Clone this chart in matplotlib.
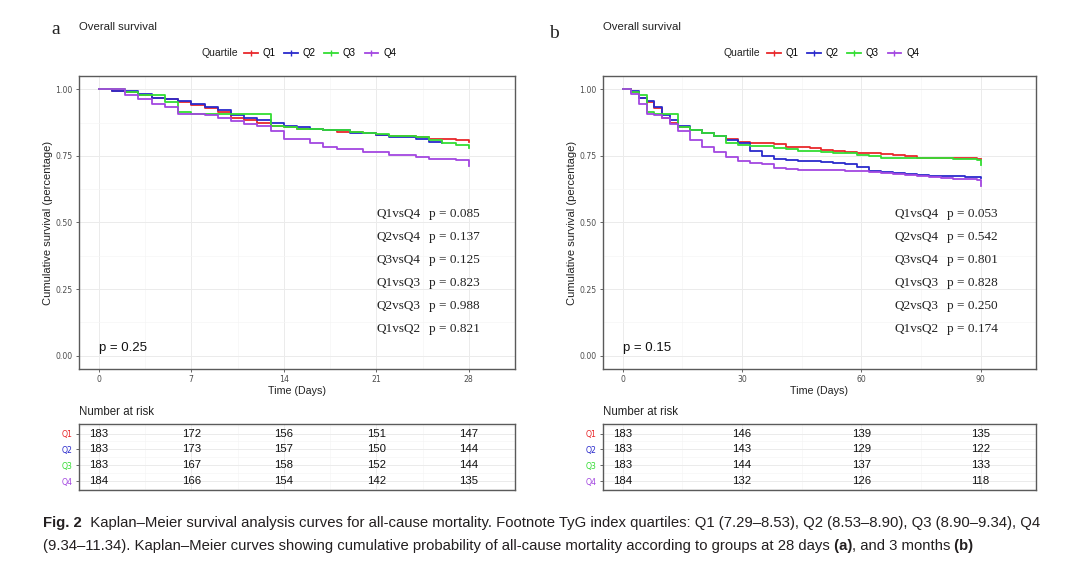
import matplotlib
matplotlib.use("Agg")
import matplotlib.pyplot as plt
from matplotlib import font_manager
from matplotlib.lines import Line2D
from matplotlib.ticker import MultipleLocator, FormatStrFormatter

W, H = 1080, 573

quartiles = ["Q1", "Q2", "Q3", "Q4"]
colors = ["#E8282B", "#2A2ACC", "#33DD33", "#A347E0"]

# panel a: 28-day survival, one value per day
days_28 = list(range(29))
surv_28_q1 = [1.000, 0.995, 0.989, 0.978, 0.967, 0.962, 0.951, 0.940, 0.929, 0.913,
              0.891, 0.885, 0.874, 0.863, 0.858, 0.852, 0.852, 0.847, 0.841, 0.841,
              0.836, 0.830, 0.825, 0.825, 0.820, 0.814, 0.814, 0.809, 0.803]
surv_28_q2 = [1.000, 0.995, 0.995, 0.984, 0.967, 0.962, 0.956, 0.945, 0.934, 0.923,
              0.902, 0.891, 0.885, 0.874, 0.863, 0.858, 0.852, 0.847, 0.847, 0.836,
              0.836, 0.830, 0.820, 0.820, 0.814, 0.803, 0.798]
surv_28_q3 = [1.000, 1.000, 0.989, 0.978, 0.978, 0.951, 0.913, 0.907, 0.907, 0.907,
              0.907, 0.907, 0.907, 0.863, 0.858, 0.852, 0.852, 0.847, 0.847, 0.841,
              0.836, 0.831, 0.825, 0.825, 0.820, 0.809, 0.798, 0.792, 0.781]
surv_28_q4 = [1.000, 1.000, 0.978, 0.962, 0.946, 0.935, 0.907, 0.907, 0.902, 0.891,
              0.880, 0.870, 0.864, 0.842, 0.815, 0.815, 0.799, 0.783, 0.777, 0.777,
              0.766, 0.766, 0.755, 0.755, 0.745, 0.739, 0.739, 0.734, 0.712]

# panel b: 90-day survival
days_90 = [0, 2, 4, 6, 8, 10, 12, 14, 17, 20, 23, 26, 29, 32, 35, 38, 41, 44, 47, 50,
           53, 56, 59, 62, 65, 68, 71, 74, 77, 80, 83, 86, 89, 90]
surv_90_q1 = [1.000, 0.989, 0.967, 0.951, 0.929, 0.891, 0.874, 0.858, 0.847, 0.836,
              0.825, 0.814, 0.803, 0.800, 0.800, 0.795, 0.785, 0.783, 0.779, 0.772,
              0.769, 0.765, 0.762, 0.760, 0.757, 0.755, 0.750, 0.743, 0.743, 0.743,
              0.743, 0.743, 0.740, 0.738]
surv_90_q2 = [1.000, 0.995, 0.967, 0.956, 0.934, 0.902, 0.885, 0.863, 0.847, 0.836,
              0.825, 0.809, 0.798, 0.770, 0.749, 0.738, 0.735, 0.732, 0.730, 0.728,
              0.725, 0.720, 0.710, 0.694, 0.690, 0.686, 0.681, 0.677, 0.673, 0.673,
              0.673, 0.672, 0.670, 0.667]
surv_90_q3 = [1.000, 0.989, 0.978, 0.913, 0.907, 0.907, 0.907, 0.858, 0.847, 0.836,
              0.825, 0.798, 0.792, 0.787, 0.787, 0.781, 0.776, 0.770, 0.768, 0.765,
              0.762, 0.760, 0.752, 0.748, 0.741, 0.741, 0.741, 0.741, 0.741, 0.741,
              0.739, 0.738, 0.733, 0.715]
surv_90_q4 = [1.000, 0.984, 0.946, 0.907, 0.902, 0.891, 0.870, 0.842, 0.810, 0.785,
              0.766, 0.745, 0.730, 0.724, 0.718, 0.703, 0.700, 0.698, 0.696, 0.696,
              0.696, 0.694, 0.694, 0.690, 0.685, 0.681, 0.679, 0.675, 0.670, 0.668,
              0.665, 0.663, 0.660, 0.636]

# number at risk
risk_times_28 = [0, 7, 14, 21, 28]
risk_28_q1 = [183, 172, 156, 151, 147]
risk_28_q2 = [183, 173, 157, 150, 144]
risk_28_q3 = [183, 167, 158, 152, 144]
risk_28_q4 = [184, 166, 154, 142, 135]
risk_times_90 = [0, 30, 60, 90]
risk_90_q1 = [183, 146, 139, 135]
risk_90_q2 = [183, 143, 129, 122]
risk_90_q3 = [183, 144, 137, 133]
risk_90_q4 = [184, 132, 126, 118]

# log-rank p values
comparisons = ["Q1vsQ4", "Q2vsQ4", "Q3vsQ4", "Q1vsQ3", "Q2vsQ3", "Q1vsQ2"]
pairwise_p_28 = ["0.085", "0.137", "0.125", "0.823", "0.988", "0.821"]
pairwise_p_90 = ["0.053", "0.542", "0.801", "0.828", "0.250", "0.174"]
overall_p_28 = "0.25"
overall_p_90 = "0.15"

SANS = ["Liberation Sans", "DejaVu Sans"]
SERIF = ["Liberation Serif", "DejaVu Serif"]
TICK_GRAY = "#4D4D4D"
FRAME = "#5A5A5A"


def fx(px):
    return px / W


def fy(py):
    return 1 - py / H


def style_grid(ax, major, ymajor, yminor):
    ax.xaxis.set_major_locator(MultipleLocator(major))
    ax.xaxis.set_minor_locator(MultipleLocator(major / 2))
    ax.yaxis.set_major_locator(MultipleLocator(ymajor))
    ax.yaxis.set_minor_locator(MultipleLocator(yminor))
    ax.grid(which="major", color="#EBEBEB", lw=0.7)
    ax.grid(which="minor", color="#F5F5F5", lw=0.5)
    ax.set_axisbelow(True)
    ax.tick_params(which="minor", length=0)
    for sp in ax.spines.values():
        sp.set_color(FRAME)
        sp.set_linewidth(1.0)


def draw_panel(fig, x0, x1, letter, letter_xy, xlim, major, days, survs,
               overall_p, pair_p, comp_x, p_x, risk_times, risks, legend_x):
    # survival curves
    ax = fig.add_axes([fx(x0), fy(369), fx(x1) - fx(x0), (369 - 76) / H])
    for s, c in zip(survs, colors):
        ax.step(days[:len(s)], s, where="post", color=c, lw=1.3)
    ax.set_xlim(*xlim)
    ax.set_ylim(-0.05, 1.05)
    style_grid(ax, major, 0.25, 0.125)
    ax.yaxis.set_major_formatter(FormatStrFormatter("%.2f"))
    ax.tick_params(which="major", length=2.5, width=0.6, color=TICK_GRAY,
                   labelsize=5.6, labelcolor=TICK_GRAY, pad=2)
    ax.set_xlabel("Time (Days)", fontsize=7.7, family=SANS, color="#222222")
    ax.set_ylabel("Cumulative survival (percentage)", fontsize=8, family=SANS,
                  color="#222222")
    ax.xaxis.set_label_coords(0.5, -0.058)
    ax.yaxis.set_label_coords(-26 / (x1 - x0), 0.5)

    for i, (comp, p) in enumerate(zip(comparisons, pair_p)):
        yy = 0.532 - i * 0.0861
        ax.text(comp_x, yy, comp, fontsize=9.5, family=SERIF, va="center",
                color="#222222")
        ax.text(p_x, yy, "p = " + p, fontsize=9.5, family=SERIF, va="center",
                color="#222222")
    ax.text(0, 0.03, "p = " + overall_p, fontsize=9.5, family=SANS,
            va="center", ha="left", color="#111111")

    # number at risk table
    tab = fig.add_axes([fx(x0), fy(490), fx(x1) - fx(x0), (490 - 424) / H])
    tab.set_xlim(*xlim)
    tab.set_ylim(0.45, 4.6)
    style_grid(tab, major, 1, 0.5)
    tab.set_yticks([4, 3, 2, 1])
    tab.set_yticklabels(quartiles)
    for lab, c in zip(tab.get_yticklabels(), colors):
        lab.set_color(c)
    tab.tick_params(axis="y", which="major", length=2.5, width=0.6,
                    color=TICK_GRAY, labelsize=5.6, pad=2)
    tab.tick_params(axis="x", which="major", length=0, labelbottom=False)
    for row, counts in enumerate(risks):
        for t, n in zip(risk_times, counts):
            tab.text(t, 4 - row, str(n), ha="center", va="center",
                     fontsize=8.2, family=SANS, color="#111111")
    fig.text(fx(x0), fy(412), "Number at risk", fontsize=8.3, family=SANS,
             va="center", ha="left", color="#222222")

    # titles and legend
    fig.text(fx(letter_xy[0]), fy(letter_xy[1]), letter, fontsize=14,
             family=SERIF, va="center", ha="left", color="#222222")
    fig.text(fx(x0), fy(27), "Overall survival", fontsize=8.2, family=SANS,
             va="center", ha="left", color="#222222")
    fig.text(fx(legend_x), fy(53), "Quartile", fontsize=7.5, family=SANS,
             va="center", ha="left", color="#222222")
    handles = [Line2D([], [], color=c, lw=1.3, marker="|", markersize=5,
                      markeredgewidth=1.0) for c in colors]
    fig.legend(handles, quartiles, loc="center left",
               bbox_to_anchor=(fx(legend_x + 43), fy(53)), ncol=4,
               frameon=False, borderpad=0, borderaxespad=0, handlelength=1.4,
               handletextpad=0.5, columnspacing=0.9,
               prop={"family": SANS, "size": 7})
    return ax


fig = plt.figure(figsize=(W / 100, H / 100), dpi=100)

draw_panel(fig, 79, 515, "a", (51, 30), (-1.5, 31.5), 7, days_28,
           [surv_28_q1, surv_28_q2, surv_28_q3, surv_28_q4],
           overall_p_28, pairwise_p_28, 21.0, 25.0, risk_times_28,
           [risk_28_q1, risk_28_q2, risk_28_q3, risk_28_q4], 201)
draw_panel(fig, 603, 1036, "b", (549, 34), (-4.95, 103.95), 30, days_90,
           [surv_90_q1, surv_90_q2, surv_90_q3, surv_90_q4],
           overall_p_90, pairwise_p_90, 68.3, 81.6, risk_times_90,
           [risk_90_q1, risk_90_q2, risk_90_q3, risk_90_q4], 724)

# caption with bold runs
names = {f.name for f in font_manager.fontManager.ttflist}
cap_family = ["Liberation Sans Narrow"] if "Liberation Sans Narrow" in names else SANS

line1 = [("Fig. 2", True),
         ("  Kaplan\u2013Meier survival analysis curves for all-cause mortality. "
          "Footnote TyG index quartiles: Q1 (7.29\u20138.53), Q2 (8.53\u20138.90), "
          "Q3 (8.90\u20139.34), Q4", False)]
line2 = [("(9.34\u201311.34). Kaplan\u2013Meier curves showing cumulative probability "
          "of all-cause mortality according to groups at 28 days", False),
         (" (a)", True), (", and 3 months", False), (" (b)", True)]

renderer = fig.canvas.get_renderer()


def draw_runs(runs, x, y, size):
    texts = []
    for s, bold in runs:
        t = fig.text(fx(x), fy(y), s, fontsize=size, family=cap_family,
                     fontweight="bold" if bold else "normal", va="baseline",
                     ha="left", color="#231F20")
        x += t.get_window_extent(renderer).width
        texts.append(t)
    return texts, x


size = 10
texts, x_end = draw_runs(line1, 43, 527, size)
scale = (1037 - 43) / (x_end - 43)
for t in texts:
    t.remove()
size = size * scale
draw_runs(line1, 43, 527, size)
draw_runs(line2, 43, 550, size)

fig.savefig("out.png", dpi=100)
